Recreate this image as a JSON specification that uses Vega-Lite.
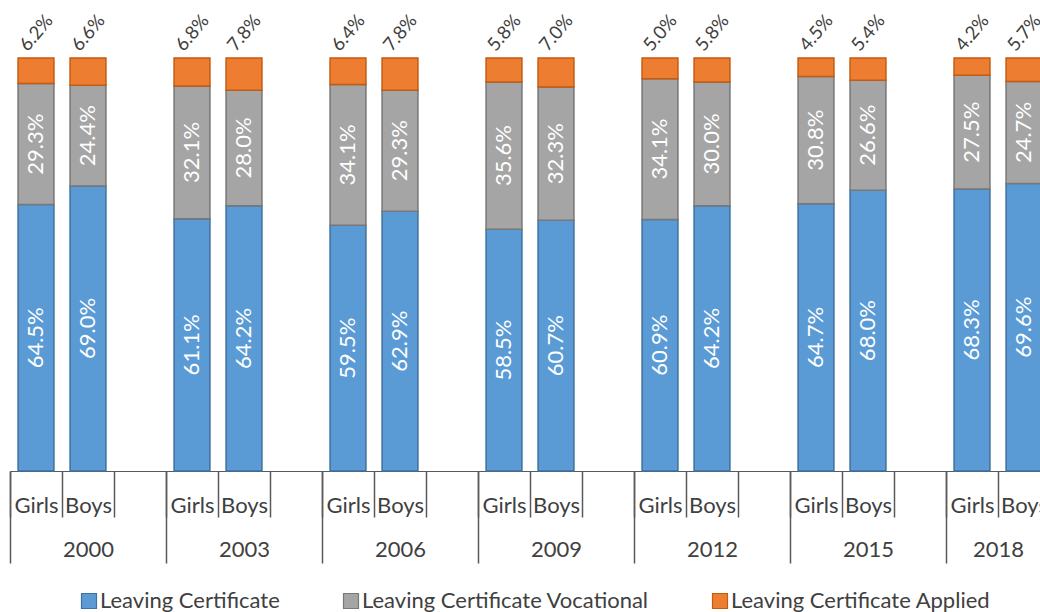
{
  "$schema": "https://vega.github.io/schema/vega-lite/v6.json",
  "width": 1030,
  "height": 413,
  "autosize": {"type": "none"},
  "padding": {"left": 10, "top": 58, "right": 0, "bottom": 141},
  "background": "white",
  "config": {
    "view": {"stroke": null},
    "font": "Lato",
    "legend": {
      "orient": "none",
      "legendX": 68,
      "legendY": 532,
      "direction": "horizontal",
      "columns": 3,
      "symbolType": "square",
      "symbolSize": 225,
      "symbolStrokeWidth": 1.2,
      "labelFont": "Lato",
      "labelFontSize": 22,
      "labelColor": "#404040",
      "labelOffset": 0,
      "columnPadding": 60,
      "labelLimit": 400
    }
  },
  "data": {
    "values": [
      {"year": "2000", "sex": "Girls", "slot": "2000|Girls", "type": "Leaving Certificate", "k": 1, "value": 0.645},
      {"year": "2000", "sex": "Girls", "slot": "2000|Girls", "type": "Leaving Certificate Vocational", "k": 2, "value": 0.293},
      {"year": "2000", "sex": "Girls", "slot": "2000|Girls", "type": "Leaving Certificate Applied", "k": 3, "value": 0.062},
      {"year": "2000", "sex": "Boys", "slot": "2000|Boys", "type": "Leaving Certificate", "k": 1, "value": 0.690},
      {"year": "2000", "sex": "Boys", "slot": "2000|Boys", "type": "Leaving Certificate Vocational", "k": 2, "value": 0.244},
      {"year": "2000", "sex": "Boys", "slot": "2000|Boys", "type": "Leaving Certificate Applied", "k": 3, "value": 0.066},
      {"year": "2003", "sex": "Girls", "slot": "2003|Girls", "type": "Leaving Certificate", "k": 1, "value": 0.611},
      {"year": "2003", "sex": "Girls", "slot": "2003|Girls", "type": "Leaving Certificate Vocational", "k": 2, "value": 0.321},
      {"year": "2003", "sex": "Girls", "slot": "2003|Girls", "type": "Leaving Certificate Applied", "k": 3, "value": 0.068},
      {"year": "2003", "sex": "Boys", "slot": "2003|Boys", "type": "Leaving Certificate", "k": 1, "value": 0.642},
      {"year": "2003", "sex": "Boys", "slot": "2003|Boys", "type": "Leaving Certificate Vocational", "k": 2, "value": 0.280},
      {"year": "2003", "sex": "Boys", "slot": "2003|Boys", "type": "Leaving Certificate Applied", "k": 3, "value": 0.078},
      {"year": "2006", "sex": "Girls", "slot": "2006|Girls", "type": "Leaving Certificate", "k": 1, "value": 0.595},
      {"year": "2006", "sex": "Girls", "slot": "2006|Girls", "type": "Leaving Certificate Vocational", "k": 2, "value": 0.341},
      {"year": "2006", "sex": "Girls", "slot": "2006|Girls", "type": "Leaving Certificate Applied", "k": 3, "value": 0.064},
      {"year": "2006", "sex": "Boys", "slot": "2006|Boys", "type": "Leaving Certificate", "k": 1, "value": 0.629},
      {"year": "2006", "sex": "Boys", "slot": "2006|Boys", "type": "Leaving Certificate Vocational", "k": 2, "value": 0.293},
      {"year": "2006", "sex": "Boys", "slot": "2006|Boys", "type": "Leaving Certificate Applied", "k": 3, "value": 0.078},
      {"year": "2009", "sex": "Girls", "slot": "2009|Girls", "type": "Leaving Certificate", "k": 1, "value": 0.585},
      {"year": "2009", "sex": "Girls", "slot": "2009|Girls", "type": "Leaving Certificate Vocational", "k": 2, "value": 0.356},
      {"year": "2009", "sex": "Girls", "slot": "2009|Girls", "type": "Leaving Certificate Applied", "k": 3, "value": 0.058},
      {"year": "2009", "sex": "Boys", "slot": "2009|Boys", "type": "Leaving Certificate", "k": 1, "value": 0.607},
      {"year": "2009", "sex": "Boys", "slot": "2009|Boys", "type": "Leaving Certificate Vocational", "k": 2, "value": 0.323},
      {"year": "2009", "sex": "Boys", "slot": "2009|Boys", "type": "Leaving Certificate Applied", "k": 3, "value": 0.070},
      {"year": "2012", "sex": "Girls", "slot": "2012|Girls", "type": "Leaving Certificate", "k": 1, "value": 0.609},
      {"year": "2012", "sex": "Girls", "slot": "2012|Girls", "type": "Leaving Certificate Vocational", "k": 2, "value": 0.341},
      {"year": "2012", "sex": "Girls", "slot": "2012|Girls", "type": "Leaving Certificate Applied", "k": 3, "value": 0.050},
      {"year": "2012", "sex": "Boys", "slot": "2012|Boys", "type": "Leaving Certificate", "k": 1, "value": 0.642},
      {"year": "2012", "sex": "Boys", "slot": "2012|Boys", "type": "Leaving Certificate Vocational", "k": 2, "value": 0.300},
      {"year": "2012", "sex": "Boys", "slot": "2012|Boys", "type": "Leaving Certificate Applied", "k": 3, "value": 0.058},
      {"year": "2015", "sex": "Girls", "slot": "2015|Girls", "type": "Leaving Certificate", "k": 1, "value": 0.647},
      {"year": "2015", "sex": "Girls", "slot": "2015|Girls", "type": "Leaving Certificate Vocational", "k": 2, "value": 0.308},
      {"year": "2015", "sex": "Girls", "slot": "2015|Girls", "type": "Leaving Certificate Applied", "k": 3, "value": 0.045},
      {"year": "2015", "sex": "Boys", "slot": "2015|Boys", "type": "Leaving Certificate", "k": 1, "value": 0.680},
      {"year": "2015", "sex": "Boys", "slot": "2015|Boys", "type": "Leaving Certificate Vocational", "k": 2, "value": 0.266},
      {"year": "2015", "sex": "Boys", "slot": "2015|Boys", "type": "Leaving Certificate Applied", "k": 3, "value": 0.054},
      {"year": "2018", "sex": "Girls", "slot": "2018|Girls", "type": "Leaving Certificate", "k": 1, "value": 0.683},
      {"year": "2018", "sex": "Girls", "slot": "2018|Girls", "type": "Leaving Certificate Vocational", "k": 2, "value": 0.275},
      {"year": "2018", "sex": "Girls", "slot": "2018|Girls", "type": "Leaving Certificate Applied", "k": 3, "value": 0.042},
      {"year": "2018", "sex": "Boys", "slot": "2018|Boys", "type": "Leaving Certificate", "k": 1, "value": 0.696},
      {"year": "2018", "sex": "Boys", "slot": "2018|Boys", "type": "Leaving Certificate Vocational", "k": 2, "value": 0.247},
      {"year": "2018", "sex": "Boys", "slot": "2018|Boys", "type": "Leaving Certificate Applied", "k": 3, "value": 0.057}
    ]
  },
  "resolve": {"scale": {"x": "independent"}, "axis": {"x": "independent"}},
  "layer": [
    {
      "mark": {"type": "bar", "strokeWidth": 1.5, "width": {"band": 0.69}},
      "encoding": {
        "x": {
          "field": "slot", "type": "nominal",
          "scale": {"domain": ["2000|Girls","2000|Boys","2000|","2003|Girls","2003|Boys","2003|","2006|Girls","2006|Boys","2006|","2009|Girls","2009|Boys","2009|","2012|Girls","2012|Boys","2012|","2015|Girls","2015|Boys","2015|","2018|Girls","2018|Boys","2018|"], "range": [0, 1092], "paddingInner": 0, "paddingOuter": 0},
          "axis": {
            "title": null, "orient": "bottom",
            "domain": true, "domainColor": "#595959", "domainWidth": 1.2,
            "ticks": true, "tickBand": "extent", "tickSize": 46, "tickColor": "#595959", "tickWidth": 1.5,
            "labelExpr": "isString(datum.value) ? split(datum.value, '|')[1] : ''",
            "labelAngle": 0, "labelFont": "Lato", "labelFontSize": 22, "labelColor": "#404040",
            "labelBaseline": "alphabetic", "labelPadding": -5, "labelOverlap": false, "labelFlush": false
          }
        },
        "y": {"field": "value", "type": "quantitative", "stack": "normalize", "axis": null},
        "order": {"field": "k", "type": "quantitative"},
        "color": {
          "field": "type", "type": "nominal",
          "scale": {"domain": ["Leaving Certificate", "Leaving Certificate Vocational", "Leaving Certificate Applied"], "range": ["#5B9BD5", "#A5A5A5", "#ED7D31"]},
          "legend": {"title": null}
        },
        "stroke": {
          "field": "type", "type": "nominal",
          "scale": {"domain": ["Leaving Certificate", "Leaving Certificate Vocational", "Leaving Certificate Applied"], "range": ["#41719C", "#787878", "#C55A11"]},
          "legend": {"title": null}
        }
      }
    },
    {
      "mark": {"type": "text", "angle": 270, "align": "center", "baseline": "middle", "color": "white", "font": "Lato", "fontSize": 22},
      "encoding": {
        "x": {
          "field": "slot", "type": "nominal",
          "scale": {"domain": ["2000|Girls","2000|Boys","2000|","2003|Girls","2003|Boys","2003|","2006|Girls","2006|Boys","2006|","2009|Girls","2009|Boys","2009|","2012|Girls","2012|Boys","2012|","2015|Girls","2015|Boys","2015|","2018|Girls","2018|Boys","2018|"], "range": [0, 1092], "paddingInner": 0, "paddingOuter": 0},
          "axis": null
        },
        "y": {"field": "value", "type": "quantitative", "stack": "normalize", "bandPosition": 0.5},
        "order": {"field": "k", "type": "quantitative"},
        "text": {"condition": {"test": "datum.k == 3", "value": ""}, "field": "value", "type": "quantitative", "format": ".1%"}
      }
    },
    {
      "mark": {"type": "text", "angle": 310, "align": "left", "baseline": "alphabetic", "color": "#404040", "font": "Lato", "fontSize": 18.5, "dx": -1, "dy": -10},
      "encoding": {
        "x": {
          "field": "slot", "type": "nominal",
          "scale": {"domain": ["2000|Girls","2000|Boys","2000|","2003|Girls","2003|Boys","2003|","2006|Girls","2006|Boys","2006|","2009|Girls","2009|Boys","2009|","2012|Girls","2012|Boys","2012|","2015|Girls","2015|Boys","2015|","2018|Girls","2018|Boys","2018|"], "range": [0, 1092], "paddingInner": 0, "paddingOuter": 0},
          "axis": {
            "title": null, "orient": "bottom",
            "domain": false,
            "ticks": true, "tickBand": "extent", "tickSize": 92, "tickColor": "#595959", "tickWidth": 1.5,
            "tickOpacity": {"condition": {"test": "!isString(datum.value) || slice(datum.value, -1) == '|'", "value": 1}, "value": 0},
            "labelExpr": "isString(datum.value) && slice(datum.value, -4) == 'Boys' ? slice(datum.value, 0, 4) : ''",
            "labelOffset": {"condition": {"test": "isString(datum.value) && slice(datum.value, 0, 4) == '2018'", "value": -26}, "value": 0},
            "labelAngle": 0, "labelFont": "Lato", "labelFontSize": 22, "labelColor": "#404040",
            "labelBaseline": "alphabetic", "labelPadding": -7, "labelOverlap": false, "labelFlush": false
          }
        },
        "y": {"field": "value", "type": "quantitative", "stack": "normalize"},
        "order": {"field": "k", "type": "quantitative"},
        "text": {"condition": {"test": "datum.k != 3", "value": ""}, "field": "value", "type": "quantitative", "format": ".1%"}
      }
    }
  ]
}
